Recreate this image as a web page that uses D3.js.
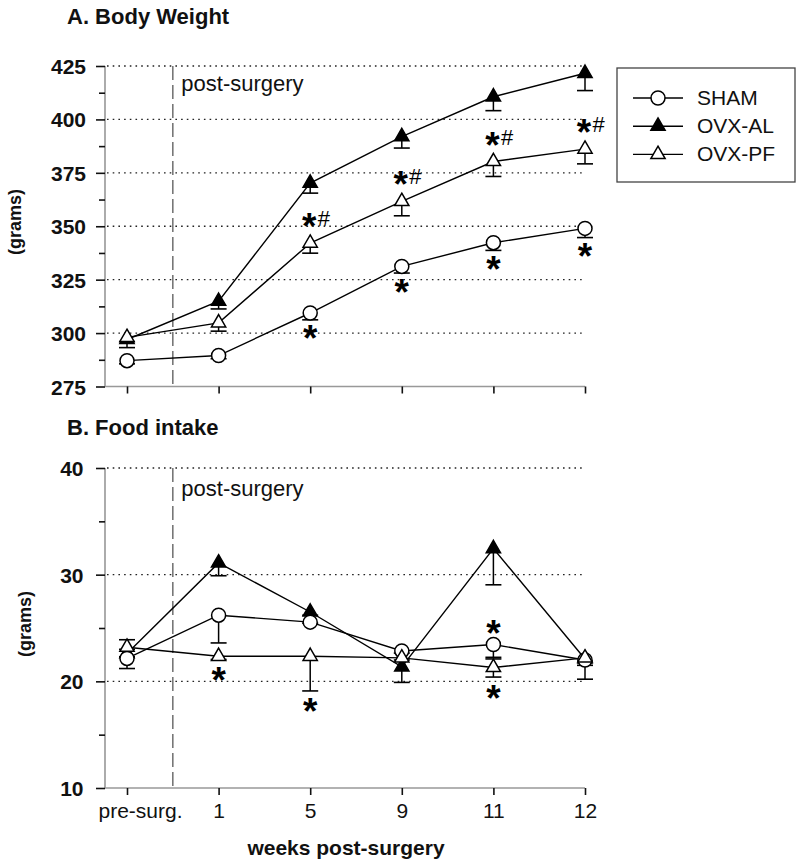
<!DOCTYPE html>
<html><head><meta charset="utf-8">
<script src="https://cdn.jsdelivr.net/npm/d3@7"></script>
<style>body{margin:0;background:#fff} svg{display:block;font-family:"Liberation Sans",Arial,sans-serif}</style>
</head><body><svg id="c" width="800" height="864"></svg>
<script>
// ---------- DATA ----------
const categories = ["pre-surg.", "1", "5", "9", "11", "12"];
const seriesNames = ["SHAM", "OVX-AL", "OVX-PF"];

// Panel A: Body weight (grams)
const bwSham      = [287.1, 289.5, 309.4, 331.2, 342.3, 349.0];
const bwShamErr   = [1.5, 1.5, 3.2, 3.1, 3.6, 4.3];
const bwOvxAl     = [297.0, 314.9, 370.2, 392.0, 410.6, 421.6];
const bwOvxAlErr  = [3.8, 3.6, 4.7, 5.4, 6.5, 8.1];
const bwOvxPf     = [298.0, 304.8, 342.1, 361.6, 380.3, 386.1];
const bwOvxPfErr  = [2.0, 3.9, 4.7, 6.7, 7.0, 6.9];
const bwTicks     = [275, 300, 325, 350, 375, 400, 425];
const bwMinor     = [287.5, 312.5, 337.5, 362.5, 387.5, 412.5];
const bwStars = [
  ["5", "SHAM", "*", "below"], ["9", "SHAM", "*", "below"], ["11", "SHAM", "*", "below"], ["12", "SHAM", "*", "below"],
  ["5", "OVX-PF", "*#", "above"], ["9", "OVX-PF", "*#", "above"], ["11", "OVX-PF", "*#", "above"], ["12", "OVX-PF", "*#", "above"]
];

// Panel B: Food intake (grams)
const fiSham          = [22.15, 26.2, 25.55, 22.85, 23.45, 22.0];
const fiShamErrDown   = [0.95, 2.6, 0.1, 0.2, 1.2, 0.5];
const fiShamErrUp     = [0, 0, 0, 0, 0, 0];
const fiOvxAl         = [22.6, 31.1, 26.5, 21.35, 32.45, 22.1];
const fiOvxAlErrDown  = [0.3, 1.2, 0.3, 1.45, 3.4, 1.9];
const fiOvxAlErrUp    = [0, 0, 0, 0, 0, 0];
const fiOvxPf         = [23.2, 22.35, 22.35, 22.2, 21.3, 22.2];
const fiOvxPfErrDown  = [0.2, 0.3, 3.25, 0.2, 0.9, 0.3];
const fiOvxPfErrUp    = [0.7, 0, 0, 0, 0.8, 0];
const fiTicks         = [10, 20, 30, 40];
const fiMinor         = [15, 25, 35];
const fiStars = [
  ["1", "OVX-PF", "*", "below"], ["5", "OVX-PF", "*", "below"],
  ["11", "SHAM", "*", "above"], ["11", "OVX-PF", "*", "below"]
];

// ---------- DRAW ----------
const svg = d3.select("#c");
const x = d3.scalePoint().domain(categories).range([127, 585]);
const axisLeftX = 105;
const gridRight = 583;
const markerType = {"SHAM": "circle", "OVX-AL": "filled", "OVX-PF": "open"};
const triPath = d3.symbol().type(d3.symbolTriangle).size(88)();

function drawMarker(g, type, cx, cy) {
  if (type === "circle") {
    g.append("circle").attr("cx", cx).attr("cy", cy).attr("r", 7)
      .attr("fill", "#fff").attr("stroke", "#000").attr("stroke-width", 1.5);
  } else {
    g.append("path").attr("d", triPath).attr("transform", `translate(${cx},${cy})`)
      .attr("fill", type === "filled" ? "#000" : "#fff")
      .attr("stroke", "#000").attr("stroke-width", 1.5).attr("stroke-linejoin", "miter");
  }
}

function drawPanel(cfg) {
  const y = d3.scaleLinear().domain(cfg.domain).range(cfg.range);
  const g = svg.append("g");
  const top = cfg.range[1], bottom = cfg.range[0];

  // gridlines
  g.selectAll(".grid").data(cfg.ticks.filter(t => t !== cfg.domain[0])).join("line")
    .attr("x1", axisLeftX + 2).attr("x2", gridRight)
    .attr("y1", d => y(d)).attr("y2", d => y(d))
    .attr("stroke", "#222").attr("stroke-width", 1.4).attr("stroke-dasharray", "1.6,4.1");

  // dashed separator
  const sx = (x(categories[0]) + x(categories[1])) / 2;
  g.append("line").attr("x1", sx).attr("x2", sx).attr("y1", top).attr("y2", bottom)
    .attr("stroke", "#777").attr("stroke-width", 1.6).attr("stroke-dasharray", "14,5");
  g.append("text").attr("x", sx + 8.5).attr("y", top + cfg.postDy)
    .attr("font-size", 22).attr("fill", "#111").text("post-surgery");

  // axes lines
  g.append("line").attr("x1", axisLeftX).attr("x2", axisLeftX).attr("y1", top).attr("y2", bottom)
    .attr("stroke", "#888").attr("stroke-width", 1.4);
  g.append("line").attr("x1", axisLeftX).attr("x2", x(categories[categories.length - 1])).attr("y1", bottom).attr("y2", bottom)
    .attr("stroke", "#999").attr("stroke-width", 1.4);

  // y axis ticks
  const ya = g.append("g").attr("transform", `translate(${axisLeftX},0)`)
    .call(d3.axisLeft(y).tickValues(cfg.ticks).tickSize(9).tickSizeOuter(0).tickPadding(cfg.tickPad).tickFormat(d3.format("d")));
  ya.select(".domain").remove();
  ya.selectAll(".tick line").attr("stroke", "#111").attr("stroke-width", 1.6);
  ya.selectAll(".tick text").attr("font-size", 21).attr("font-weight", "bold")
    .attr("font-family", "Liberation Sans, Arial, sans-serif").attr("fill", "#111").attr("dy", "0.36em");
  const ym = g.append("g").attr("transform", `translate(${axisLeftX},0)`)
    .call(d3.axisLeft(y).tickValues(cfg.minor).tickSize(6).tickSizeOuter(0).tickFormat(""));
  ym.select(".domain").remove();
  ym.selectAll(".tick line").attr("stroke", "#111").attr("stroke-width", 1.6);

  // x axis ticks
  const xa = g.append("g").attr("transform", `translate(0,${bottom})`)
    .call(d3.axisBottom(x).tickSize(7).tickSizeOuter(0).tickFormat(cfg.xLabels ? (d => d) : ""));
  xa.select(".domain").remove();
  xa.selectAll(".tick line").attr("stroke", "#111").attr("stroke-width", 1.6);
  if (cfg.xLabels) {
    xa.selectAll(".tick text").attr("font-size", 21).attr("font-family", "Liberation Sans, Arial, sans-serif")
      .attr("fill", "#111").attr("dy", 0).attr("y", 30)
      .attr("dx", (d, i) => i === 0 ? 13 : 0);
  }

  // series
  const series = cfg.series;
  const line = d3.line().x((d, i) => x(categories[i])).y(d => y(d));
  series.forEach(s => {
    g.append("path").datum(s.values).attr("d", line)
      .attr("fill", "none").attr("stroke", "#000").attr("stroke-width", 1.4);
  });
  // error bars
  series.forEach(s => {
    s.values.forEach((v, i) => {
      const cx = x(categories[i]);
      [[s.down[i], -1], [s.up[i], 1]].forEach(([e, sign]) => {
        if (!e) return;
        const ye = y(v + sign * e);
        g.append("line").attr("x1", cx).attr("x2", cx).attr("y1", y(v)).attr("y2", ye)
          .attr("stroke", "#000").attr("stroke-width", 1.5);
        g.append("line").attr("x1", cx - 8).attr("x2", cx + 8).attr("y1", ye).attr("y2", ye)
          .attr("stroke", "#000").attr("stroke-width", 1.6);
      });
    });
  });
  // markers
  series.forEach(s => {
    s.values.forEach((v, i) => drawMarker(g, markerType[s.name], x(categories[i]), y(v)));
  });

  // significance marks
  cfg.stars.forEach(([cat, name, txt, side]) => {
    const s = series.find(d => d.name === name);
    const i = categories.indexOf(cat);
    const v = s.values[i];
    const cx = x(cat);
    const cy = side === "below" ? y(v - s.down[i]) + cfg.belowOff : y(v + s.up[i]) - cfg.aboveOff;
    const hasHash = txt.includes("#");
    g.append("text").attr("x", cx - (hasHash ? 1 : 0)).attr("y", cy + 17.5).attr("text-anchor", "middle")
      .attr("font-size", 37).attr("font-weight", "bold").attr("fill", "#000").text("*");
    if (hasHash) {
      g.append("text").attr("x", cx + 7.5).attr("y", cy + 4.5)
        .attr("font-size", 22).attr("fill", "#000").text("#");
    }
  });

  // titles & labels
  svg.append("text").attr("x", 67).attr("y", cfg.titleY).attr("font-size", 22).attr("font-weight", "bold")
    .attr("fill", "#111").text(cfg.title);
  svg.append("text").attr("transform", `translate(${cfg.ylabX},${cfg.ylabY}) rotate(-90)`)
    .attr("text-anchor", "middle").attr("font-size", 18).attr("font-weight", "bold")
    .attr("fill", "#111").text("(grams)");
}

drawPanel({
  title: "A. Body Weight", titleY: 24, ylabX: 21, ylabY: 222,
  domain: [275, 425], range: [386.5, 66], ticks: bwTicks, minor: bwMinor, tickPad: 10,
  postDy: 25, xLabels: false, belowOff: 14, aboveOff: 21.5,
  series: [
    {name: "OVX-AL", values: bwOvxAl, down: bwOvxAlErr, up: bwOvxAlErr.map(() => 0)},
    {name: "SHAM", values: bwSham, down: bwShamErr, up: bwShamErr.map(() => 0)},
    {name: "OVX-PF", values: bwOvxPf, down: bwOvxPfErr, up: bwOvxPfErr.map(() => 0)}
  ],
  stars: bwStars
});

drawPanel({
  title: "B. Food intake", titleY: 435, ylabX: 31, ylabY: 624,
  domain: [10, 40], range: [788, 468], ticks: fiTicks, minor: fiMinor, tickPad: 12.5,
  postDy: 28, xLabels: true, belowOff: 16, aboveOff: 16,
  series: [
    {name: "OVX-AL", values: fiOvxAl, down: fiOvxAlErrDown, up: fiOvxAlErrUp},
    {name: "SHAM", values: fiSham, down: fiShamErrDown, up: fiShamErrUp},
    {name: "OVX-PF", values: fiOvxPf, down: fiOvxPfErrDown, up: fiOvxPfErrUp}
  ],
  stars: fiStars
});

// x axis title
svg.append("text").attr("x", 346).attr("y", 855).attr("text-anchor", "middle")
  .attr("font-size", 21).attr("font-weight", "bold").attr("fill", "#111").text("weeks post-surgery");

// legend
const lg = svg.append("g");
lg.append("rect").attr("x", 617).attr("y", 68).attr("width", 178).attr("height", 114)
  .attr("fill", "#fff").attr("stroke", "#444").attr("stroke-width", 1.3);
seriesNames.forEach((n, i) => {
  const ly = 98 + i * 28.2;
  lg.append("line").attr("x1", 633).attr("x2", 683).attr("y1", ly).attr("y2", ly)
    .attr("stroke", "#000").attr("stroke-width", 1.4);
  drawMarker(lg, markerType[n], 658, ly);
  lg.append("text").attr("x", 697).attr("y", ly + 6.8).attr("font-size", 21).attr("fill", "#111").text(n);
});
</script></body></html>
